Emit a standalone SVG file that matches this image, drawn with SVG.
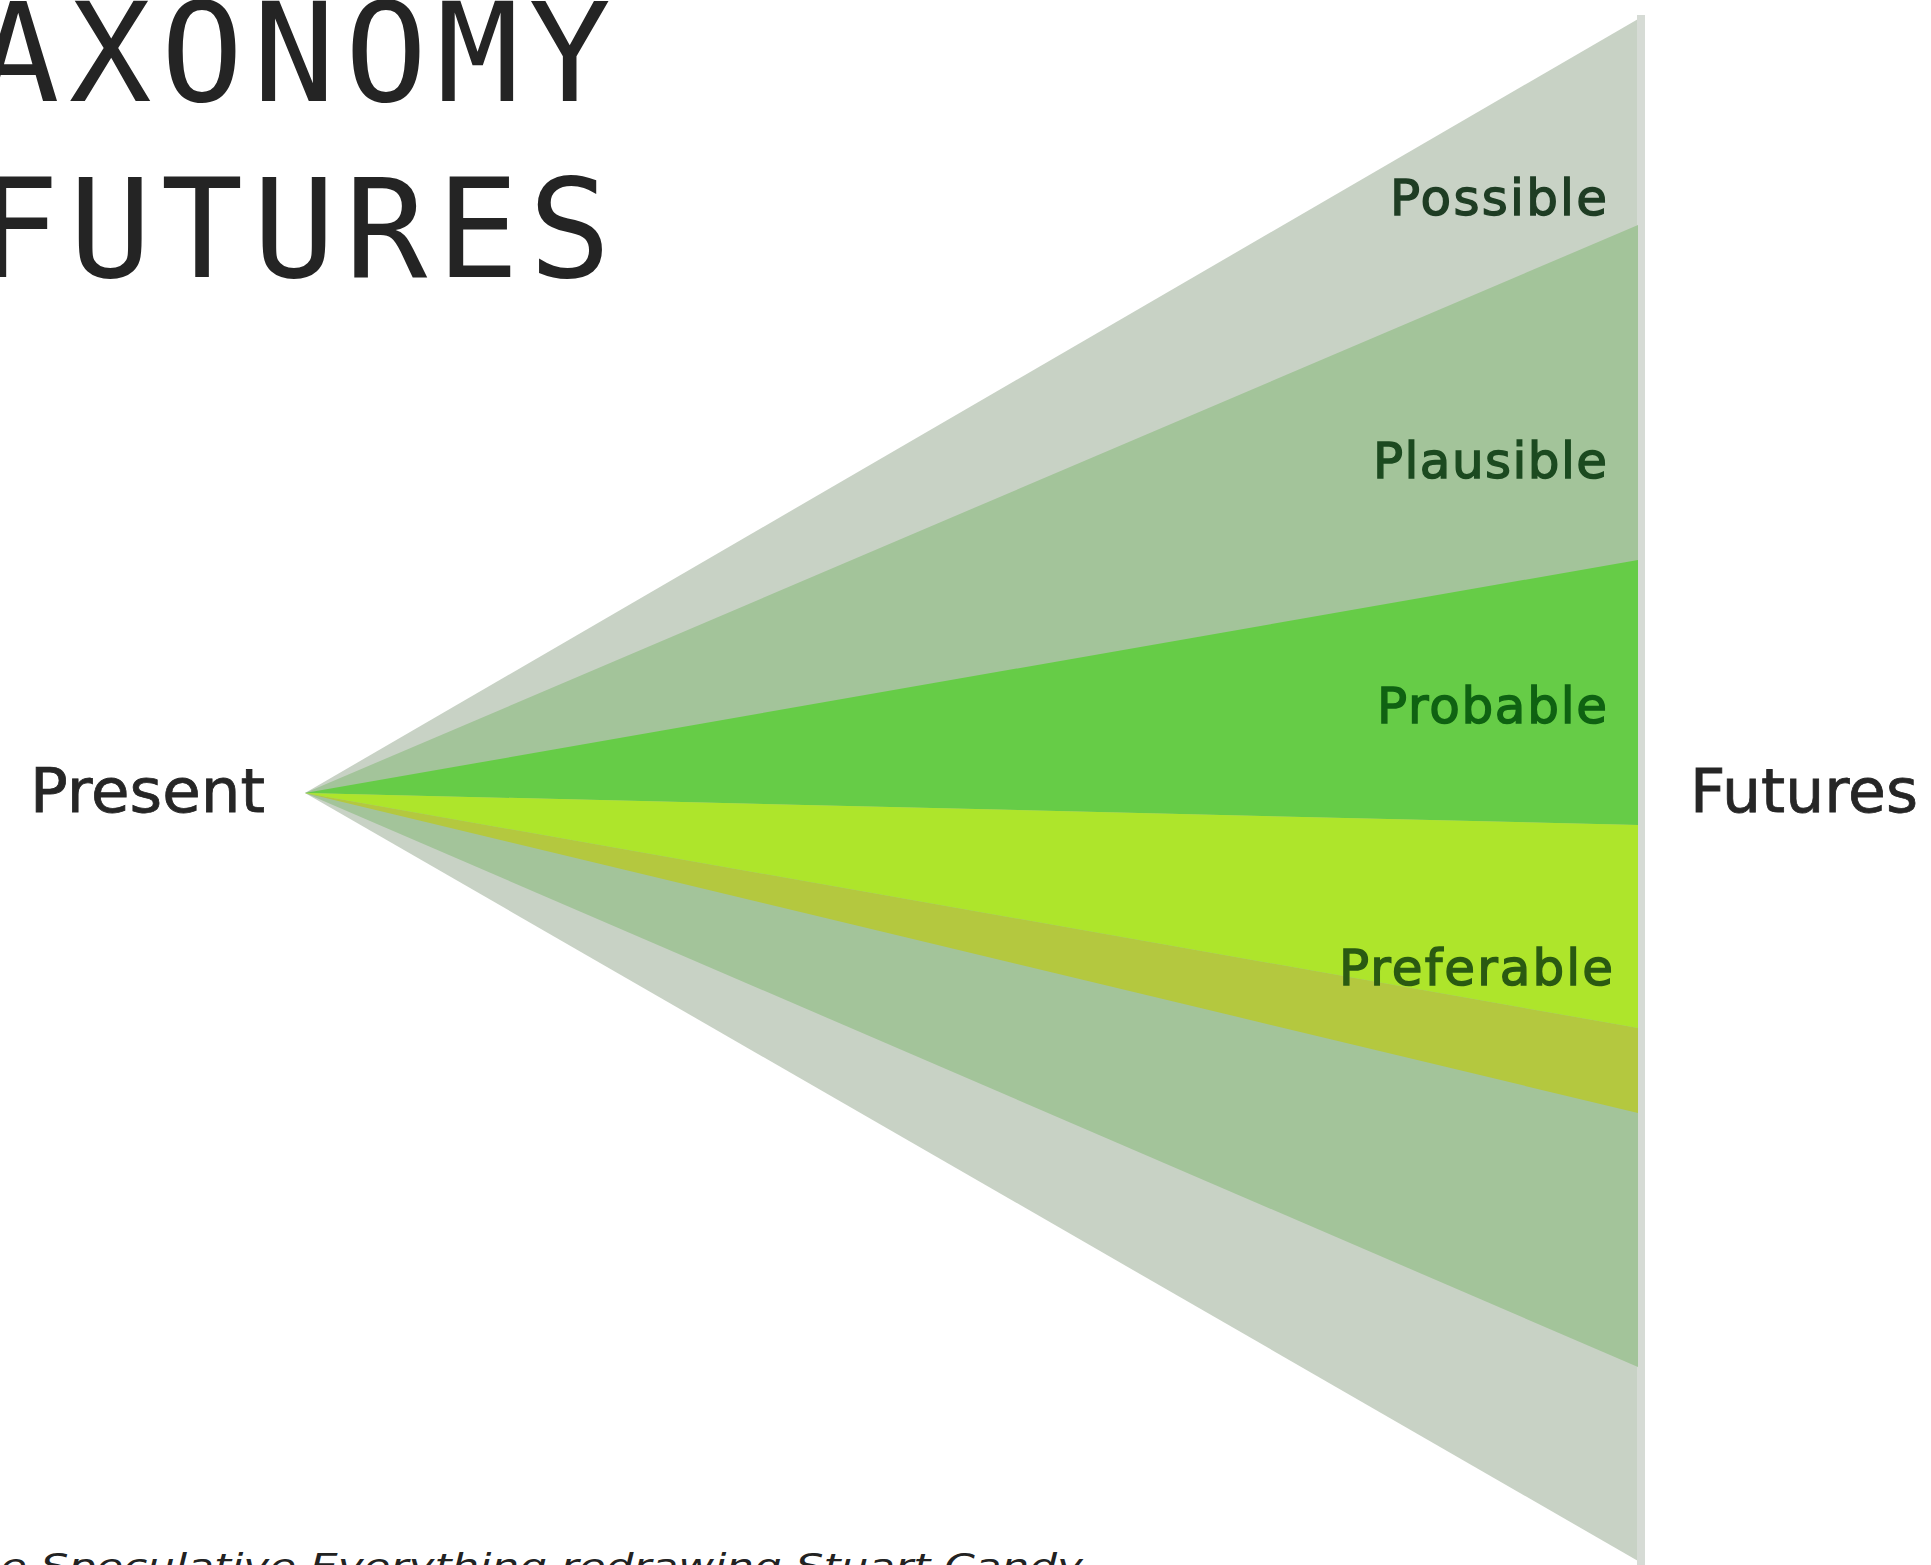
<svg xmlns="http://www.w3.org/2000/svg" width="1931" height="1565" viewBox="0 0 1931 1565">
<style>
.title{font-family:"DejaVu Sans Mono","Liberation Mono",monospace;font-size:137px;fill:#242424}
.axis{font-family:"DejaVu Sans","Liberation Sans",sans-serif;font-size:61px;fill:#262626;stroke:#262626;stroke-width:0.8}
.lbl{font-family:"DejaVu Sans","Liberation Sans",sans-serif;font-size:50px;stroke-width:1.4}
.cap{font-family:"DejaVu Sans","Liberation Sans",sans-serif;font-size:34px;font-style:italic;fill:#222}
</style>
<rect width="1931" height="1565" fill="#ffffff"/>
<g id="title">
<text class="title" x="-23" y="101" textLength="634" lengthAdjust="spacing">AXONOMY</text>
<text class="title" x="-23" y="277" textLength="634" lengthAdjust="spacing">FUTURES</text>
</g>
<g id="possible">
<polygon points="305,793 1645,15 1645,1565" fill="#c8d2c5"/>
<rect x="1637" y="15" width="8" height="1550" fill="#d6dbd5"/>
<text class="lbl" x="1390" y="215" fill="#1f3d24" stroke="#1f3d24" textLength="217" lengthAdjust="spacing">Possible</text>
</g>
<g id="plausible">
<polygon points="305,793 1638,225 1638,1367" fill="#a3c49a"/>
<text class="lbl" x="1373" y="478" fill="#1c4a20" stroke="#1c4a20" textLength="234" lengthAdjust="spacing">Plausible</text>
</g>
<g id="probable">
<polygon points="305,793 1638,560 1638,825" fill="#66cc47"/>
<text class="lbl" x="1377" y="723" fill="#0f6212" stroke="#0f6212" textLength="230" lengthAdjust="spacing">Probable</text>
</g>
<g id="preferable">
<polygon points="305,793 1638,1028 1638,1113" fill="#b4c83f"/>
<polygon points="305,793 1638,825 1638,1028" fill="#aee52b"/>
<text class="lbl" x="1339" y="985" fill="#2a5a12" stroke="#2a5a12" textLength="274" lengthAdjust="spacing">Preferable</text>
</g>
<g id="present">
<text class="axis" x="30" y="812" textLength="235" lengthAdjust="spacingAndGlyphs">Present</text>
</g>
<g id="futures">
<text class="axis" x="1690" y="812" textLength="228" lengthAdjust="spacingAndGlyphs">Futures</text>
</g>
<g id="connectors"></g>
<g id="caption">
<text class="cap" x="0" y="1578" textLength="1083" lengthAdjust="spacingAndGlyphs">e Speculative Everything redrawing Stuart Candy</text>
</g>
</svg>
